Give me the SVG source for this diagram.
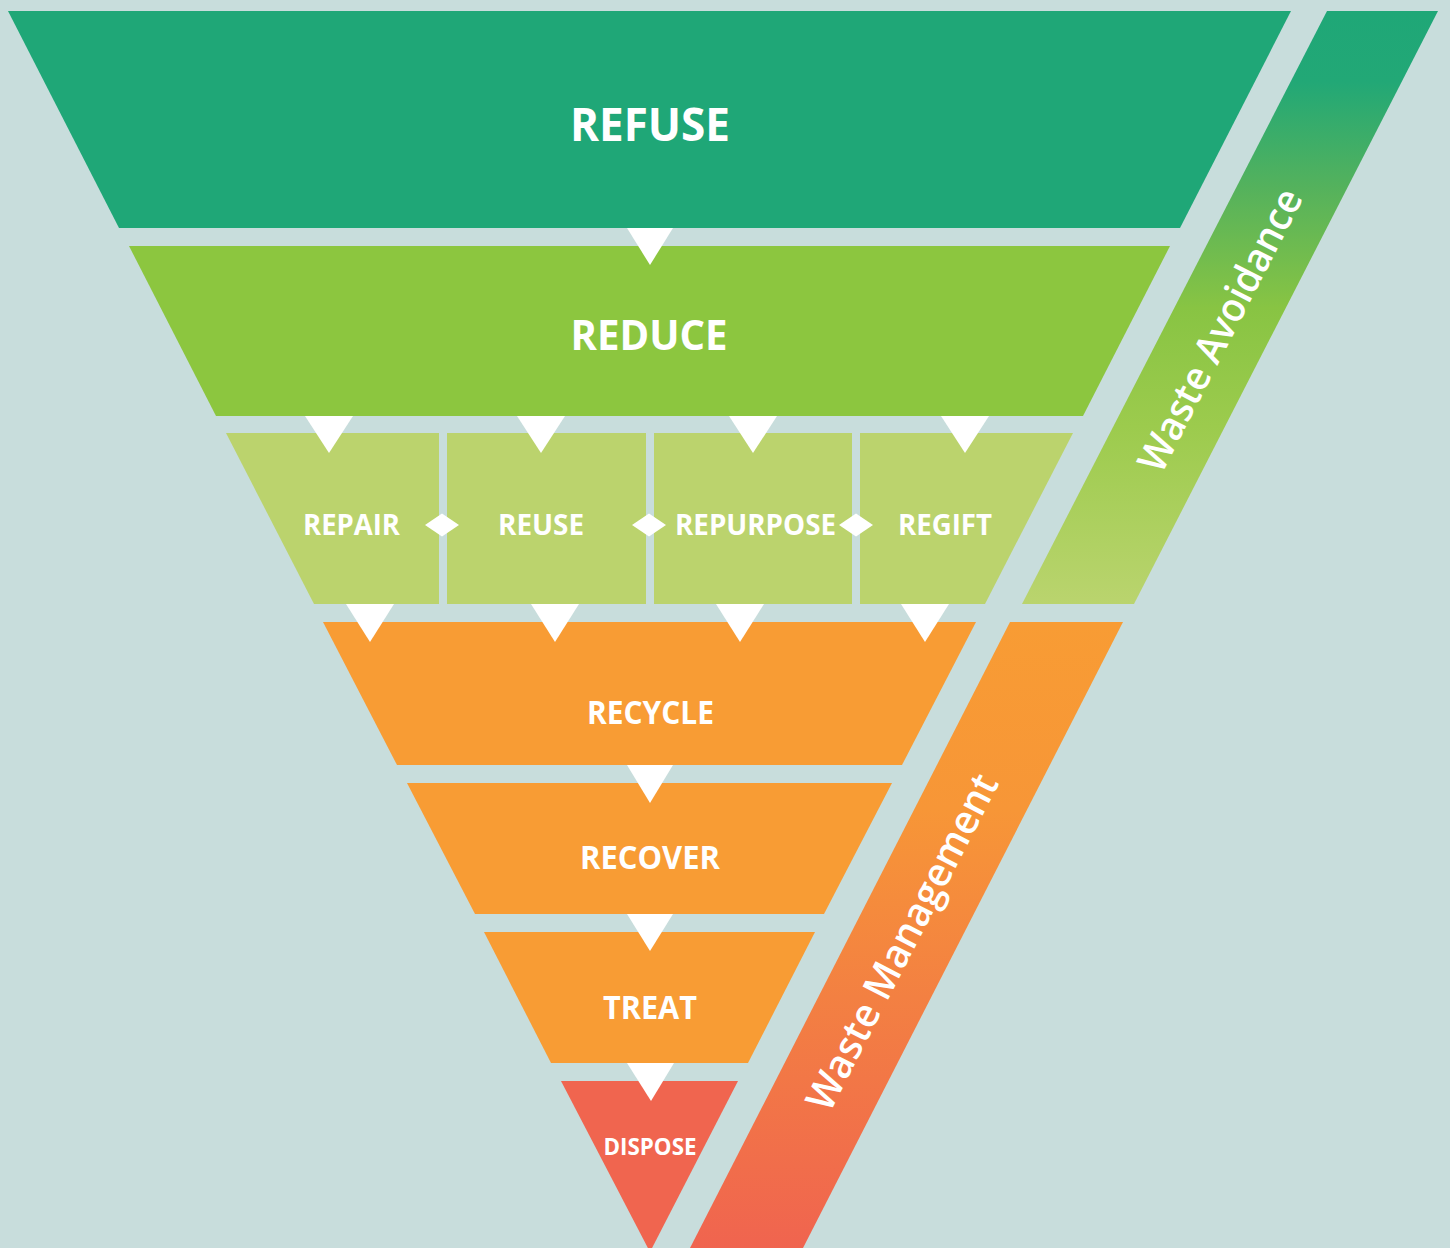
<svg xmlns="http://www.w3.org/2000/svg" width="1450" height="1248" viewBox="0 0 1450 1248">
<defs>
<style>
.lbl{font-family:"Open Sans","Liberation Sans",sans-serif;font-weight:700;fill:#ffffff;text-anchor:middle}
.side{font-family:"Open Sans","Liberation Sans",sans-serif;font-weight:600;fill:#ffffff;text-anchor:middle}
.arr{fill:#ffffff}
.refuse{fill:#1fa777}
.reduce{fill:#8cc63f}
.mid{fill:#bbd36d}
.orange{fill:#f89c34}
.dispose{fill:#f0654f}
</style>
<linearGradient id="gAvoid" gradientUnits="userSpaceOnUse" x1="0" y1="11" x2="0" y2="604">
<stop offset="0" stop-color="#1fa777"/>
<stop offset="0.12" stop-color="#22a876"/>
<stop offset="0.3" stop-color="#55b25c"/>
<stop offset="0.5" stop-color="#88c443"/>
<stop offset="0.7" stop-color="#9ccb4d"/>
<stop offset="1" stop-color="#bad46e"/>
</linearGradient>
<linearGradient id="gManage" gradientUnits="userSpaceOnUse" x1="0" y1="622" x2="0" y2="1248">
<stop offset="0" stop-color="#f89c34"/>
<stop offset="0.3" stop-color="#f79637"/>
<stop offset="0.6" stop-color="#f38042"/>
<stop offset="1" stop-color="#f0644f"/>
</linearGradient>
</defs>
<rect x="0" y="0" width="1450" height="1248" fill="#c8dddc"/>

<g id="refuse">
<polygon class="refuse" points="8,11 1291,11 1180,228 119,228"/>
<text class="lbl" x="650" y="141" font-size="46" textLength="160" lengthAdjust="spacingAndGlyphs">REFUSE</text>
</g>
<g id="reduce">
<polygon class="reduce" points="129,246 1170,246 1083,416 216,416"/>
<text class="lbl" x="649" y="350" font-size="42" textLength="157" lengthAdjust="spacingAndGlyphs">REDUCE</text>
</g>
<g id="repair">
<polygon class="mid" points="226,433 439,433 439,604 314,604"/>
<text class="lbl" x="351.5" y="535" font-size="29" textLength="97" lengthAdjust="spacingAndGlyphs">REPAIR</text>
</g>
<g id="reuse">
<rect class="mid" x="447" y="433" width="199" height="171"/>
<text class="lbl" x="541" y="535" font-size="29" textLength="86" lengthAdjust="spacingAndGlyphs">REUSE</text>
</g>
<g id="repurpose">
<rect class="mid" x="654" y="433" width="198" height="171"/>
<text class="lbl" x="755.5" y="535" font-size="29" textLength="161" lengthAdjust="spacingAndGlyphs">REPURPOSE</text>
</g>
<g id="regift">
<polygon class="mid" points="860,433 1073,433 985,604 860,604"/>
<text class="lbl" x="945" y="535" font-size="29" textLength="94" lengthAdjust="spacingAndGlyphs">REGIFT</text>
</g>
<g id="recycle">
<polygon class="orange" points="323,622 976,622 902,765 397,765"/>
<text class="lbl" x="650.5" y="724" font-size="32" textLength="127" lengthAdjust="spacingAndGlyphs">RECYCLE</text>
</g>
<g id="recover">
<polygon class="orange" points="407,783 892,783 824,914 475,914"/>
<text class="lbl" x="650" y="869" font-size="32" textLength="140" lengthAdjust="spacingAndGlyphs">RECOVER</text>
</g>
<g id="treat">
<polygon class="orange" points="484,932 815,932 748,1063 551,1063"/>
<text class="lbl" x="650" y="1019" font-size="32" textLength="94" lengthAdjust="spacingAndGlyphs">TREAT</text>
</g>
<g id="dispose">
<polygon class="dispose" points="561,1081 738,1081 650,1252"/>
<text class="lbl" x="650" y="1155" font-size="23" textLength="93" lengthAdjust="spacingAndGlyphs">DISPOSE</text>
</g>

<g id="waste-avoidance">
<polygon fill="url(#gAvoid)" points="1327,11 1438,11 1134,604 1022,604"/>
<text class="side" transform="translate(1220,330) rotate(-62.8)" x="0" y="14" font-size="40" textLength="312" lengthAdjust="spacingAndGlyphs">Waste Avoidance</text>
</g>
<g id="waste-management">
<polygon fill="url(#gManage)" points="1010,622 1123,622 803,1248 690,1248"/>
<text class="side" transform="translate(902,942) rotate(-62.8)" x="0" y="14" font-size="40" textLength="372" lengthAdjust="spacingAndGlyphs">Waste Management</text>
</g>

<g id="connectors">
<polygon class="arr" points="627,228 673,228 650,265"/>
<polygon class="arr" points="305,416 353,416 329,453"/>
<polygon class="arr" points="517,416 565,416 541,453"/>
<polygon class="arr" points="729,416 777,416 753,453"/>
<polygon class="arr" points="941,416 989,416 965,453"/>
<polygon class="arr" points="425,525 442,513.5 459,525 442,536.5"/>
<polygon class="arr" points="632,525 649,513.5 666,525 649,536.5"/>
<polygon class="arr" points="839,525 856,513.5 873,525 856,536.5"/>
<polygon class="arr" points="346,604 394,604 370,642"/>
<polygon class="arr" points="531,604 579,604 555,642"/>
<polygon class="arr" points="716,604 764,604 740,642"/>
<polygon class="arr" points="901,604 949,604 925,642"/>
<polygon class="arr" points="627,765 673,765 650,803"/>
<polygon class="arr" points="627,914 673,914 650,951"/>
<polygon class="arr" points="627,1063 674,1063 651,1101"/>
</g>
</svg>
